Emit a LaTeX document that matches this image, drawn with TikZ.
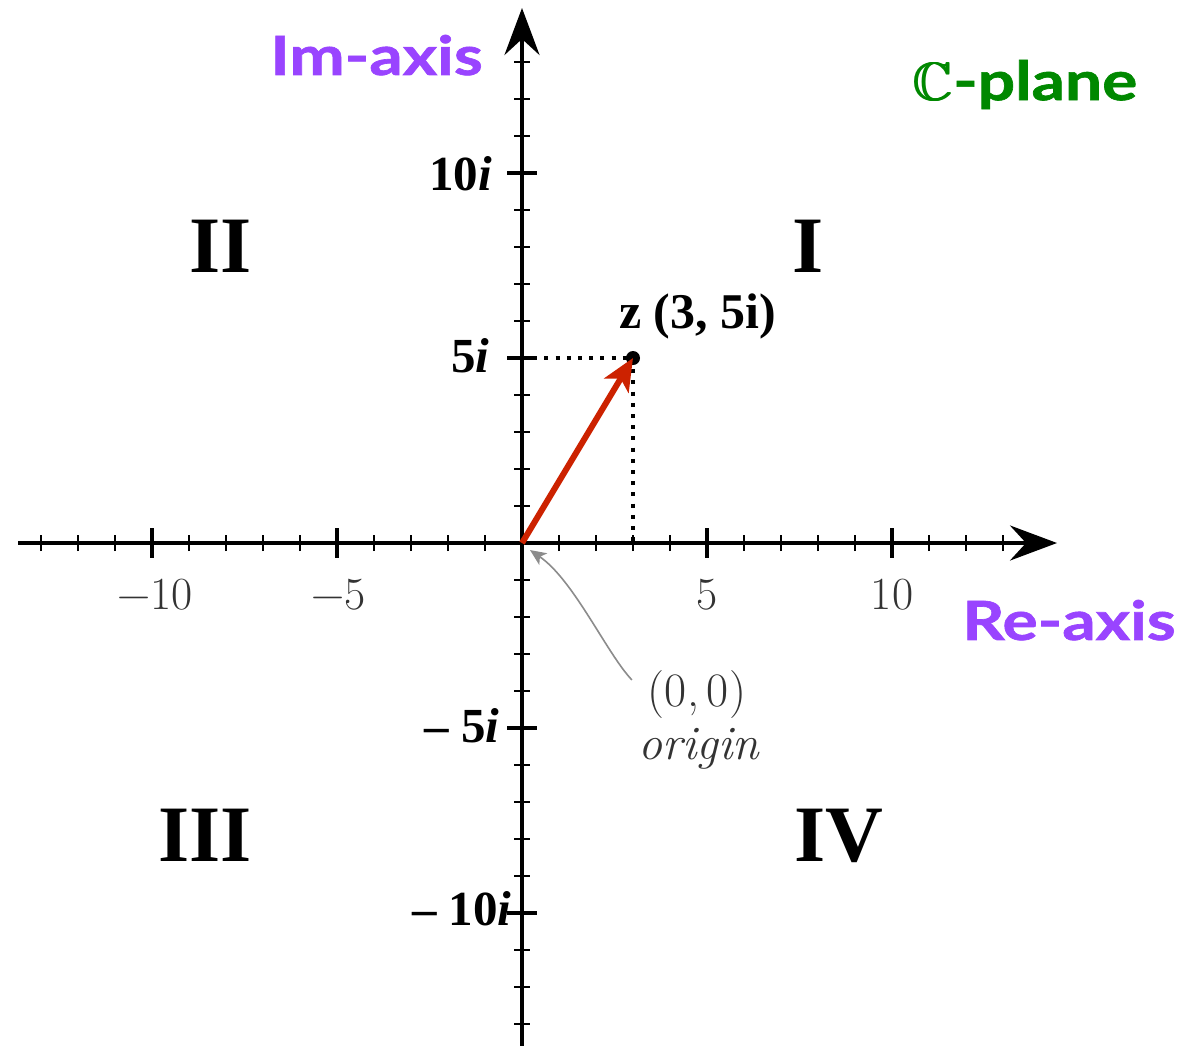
\documentclass[tikz,border=0pt]{standalone}
\usepackage{amssymb}
\usepackage{fontspec}
\usetikzlibrary{arrows.meta}
\newfontfamily\tnr{Liberation Serif}
\newfontfamily\gill[FakeStretch=1.22,FakeBold=1.2]{Lato}
\newcommand{\heavyC}{\rlap{$\mathbb{C}$}\kern0.45pt\rlap{$\mathbb{C}$}\kern0.45pt$\mathbb{C}$}
\definecolor{axpurple}{RGB}{153,68,255}
\definecolor{cgreen}{RGB}{0,136,0}
\definecolor{zred}{RGB}{204,34,0}
\begin{document}
\begin{tikzpicture}[x=18.5pt,y=18.5pt,
  axisline/.style={line width=2pt,-{Stealth[length=23.5pt,width=17.5pt,inset=8pt]}},
  minortick/.style={line width=0.7pt},
  majortick/.style={line width=1.6pt},
  helper/.style={line width=2pt,dash pattern=on 2pt off 3.6pt},
  roman/.style={font=\tnr\bfseries\fontsize{40}{44}\selectfont,inner sep=0pt,anchor=base},
  imlabel/.style={font=\tnr\bfseries\fontsize{24.5}{28}\selectfont,inner sep=0pt,anchor=base east},
  numlabel/.style={font=\fontsize{23}{27}\selectfont,inner sep=0pt,anchor=base,text=black!80},
  axisname/.style={font=\gill\bfseries\fontsize{27}{30}\selectfont,inner sep=0pt},
  annot/.style={font=\fontsize{24}{28}\selectfont,inner sep=0pt,anchor=base,text=black!80}
]
\fill[white] (-14.108,-13.568) rectangle (18.081,14.676);
\useasboundingbox (-14.108,-13.568) rectangle (18.081,14.676);

% axes
\coordinate (xl) at (-13.62,0);
\coordinate (xr) at (14.46,0);
\coordinate (yb) at (0,-13.8);
\coordinate (yt) at (0,14.46);
\draw[axisline] (xl) -- (xr);
\draw[axisline] (yb) -- (yt);

% ticks
\foreach \t in {-13,-12,-11,-9,-8,-7,-6,-4,-3,-2,-1,1,2,3,4,6,7,8,9,11,12,13}{
  \draw[minortick] (\t,-0.216) -- (\t,0.216);
  \draw[minortick] (-0.216,\t) -- (0.216,\t);
}
\foreach \t in {-10,-5,5,10}{
  \draw[majortick] (\t,-0.405) -- (\t,0.405);
  \draw[majortick] (-0.405,\t) -- (0.405,\t);
}

% axis numbers
\node[numlabel] (nm10) at (-9.92,-1.81) {−10};
\node[numlabel] (nm5) at (-4.95,-1.81) {−5};
\node[numlabel] (n5) at (5,-1.81) {5};
\node[numlabel] (n10) at (10,-1.81) {10};

% imaginary labels
\node[imlabel] (i10) at (-0.81,9.54) {10\textit{i}};
\node[imlabel] (i5) at (-0.865,4.62) {5\textit{i}};
\node[imlabel] (im5) at (-0.595,-5.38) {– 5\textit{i}};
\node[imlabel] (im10) at (-0.27,-10.35) {– 10\textit{i}};

% quadrants
\node[roman] (q2) at (-8.135,7.32) {II};
\node[roman] (q1) at (7.73,7.32) {I};
\node[roman] (q3) at (-8.57,-8.62) {III};
\node[roman] (q4) at (8.57,-8.62) {IV};

% point z
\coordinate (O) at (0,0);
\coordinate (Z) at (3,5);
\coordinate (Y5) at (0,5);
\coordinate (X3) at (3,0);
\draw[helper] (Y5) -- (Z);
\draw[helper] (Z) -- (X3);
\node[circle,fill=black,inner sep=0pt,minimum size=7pt] (zdot) at (Z) {};
\draw[zred,line width=3pt,-{Stealth[length=16pt,width=14pt,inset=4pt]}] (O) -- (Z);
\node[font=\tnr\bfseries\fontsize{25}{29}\selectfont,inner sep=0pt,anchor=base west] (zlab) at (2.62,5.81) {z (3, 5i)};

% origin annotation
\node[annot] (orig) at (4.73,-4.43) {(0,\,0)};
\node[annot] (origw) at (4.78,-5.86) {\itshape origin};
\coordinate (annstart) at (2.97,-3.70);
\coordinate (anntip) at (0.216,-0.19);
\draw[black!45,line width=0.8pt,-{Stealth[length=8pt,width=7pt,inset=2pt]}] (annstart) .. controls (2.3,-3.0) and (1.4,-1.0) .. (anntip);

% axis names
\node[axisname,text=axpurple,anchor=base east] (imname) at (-1.05,12.65) {Im-axis};
\node[axisname,text=axpurple,anchor=base west] (rename) at (11.89,-2.62) {Re-axis};
\node[axisname,text=cgreen,anchor=base west] (cplane) at (10.54,11.97) {\heavyC-plane};
\end{tikzpicture}
\end{document}
